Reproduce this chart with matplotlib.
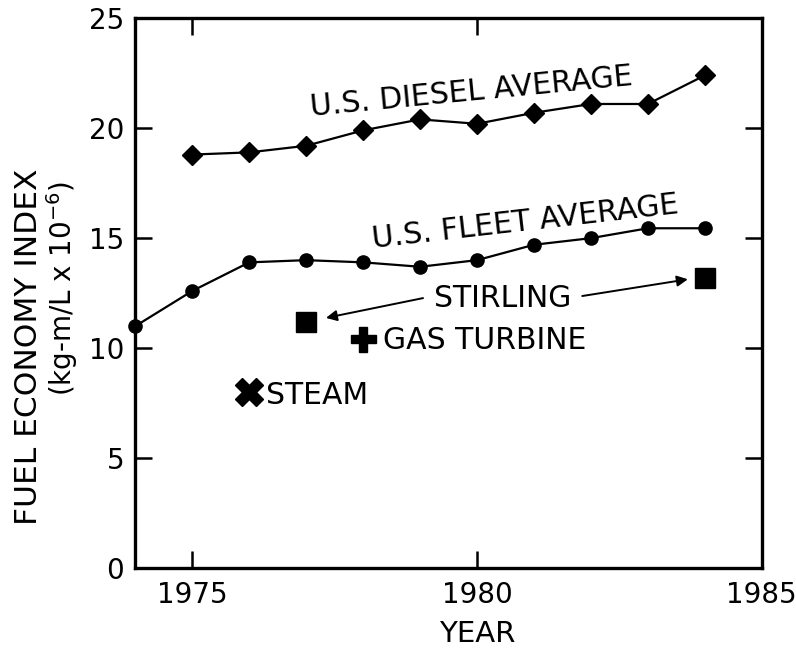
import matplotlib.pyplot as plt

plt.rcParams['font.family'] = ['DejaVu Sans']

diesel_years = [1975, 1976, 1977, 1978, 1979, 1980, 1981, 1982, 1983, 1984]
diesel_index = [18.8, 18.9, 19.2, 19.9, 20.4, 20.2, 20.7, 21.1, 21.1, 22.4]

fleet_years = [1974, 1975, 1976, 1977, 1978, 1979, 1980, 1981, 1982, 1983, 1984]
fleet_index = [11.0, 12.6, 13.9, 14.0, 13.9, 13.7, 14.0, 14.7, 15.0, 15.45, 15.45]

stirling_years = [1977, 1984]
stirling_index = [11.2, 13.2]
turbine_year, turbine_index = 1978, 10.4
steam_year, steam_index = 1976, 8.0


def main():
    fig = plt.figure(figsize=(7.96, 6.5), dpi=100)
    ax = fig.add_axes([0.170, 0.126, 0.787, 0.846])

    ax.plot(diesel_years, diesel_index, color='black', lw=1.6, marker='D', ms=10)
    ax.plot(fleet_years, fleet_index, color='black', lw=1.6, marker='o', ms=9.5, clip_on=False)
    ax.plot(stirling_years, stirling_index, ls='none', marker='s', ms=15, color='black')
    ax.plot(turbine_year, turbine_index, ls='none', marker='P', ms=18, color='black')
    ax.plot(steam_year, steam_index, ls='none', marker='X', ms=20, color='black')

    ax.set_xlim(1974, 1985)
    ax.set_ylim(0, 25)
    ax.set_xticks([1975, 1980, 1985])
    ax.set_yticks([0, 5, 10, 15, 20, 25])
    ax.tick_params(direction='in', length=12, width=1.8, labelsize=20,
                   top=True, right=True)
    ax.tick_params(axis='x', pad=9)
    ax.tick_params(axis='y', pad=8)
    for s in ax.spines.values():
        s.set_linewidth(2.4)

    ax.set_xlabel('YEAR', fontsize=21, labelpad=8, x=(1980 - 1974) / 11)
    fig.text(0.036, 0.466, 'FUEL ECONOMY INDEX', rotation=90, fontsize=22.5,
             ha='center', va='center')
    fig.text(0.078, 0.556, '(kg-m/L x 10$^{-6}$)', rotation=90, fontsize=20,
             ha='center', va='center')

    ax.text(1979.9, 21.65, 'U.S. DIESEL AVERAGE', fontsize=21.5, rotation=5.5,
            ha='center', va='center')
    ax.text(1980.85, 15.75, 'U.S. FLEET AVERAGE', fontsize=21.5, rotation=6.5,
            ha='center', va='center')

    ax.text(1980.45, 12.25, 'STIRLING', fontsize=21.5, ha='center', va='center')
    arrow = dict(arrowstyle='-|>', color='black', lw=1.4, mutation_scale=16)
    ax.annotate('', xy=(1977.3, 11.35), xytext=(1979.1, 12.3), arrowprops=arrow)
    ax.annotate('', xy=(1983.75, 13.15), xytext=(1981.8, 12.35), arrowprops=arrow)

    ax.text(1978.35, 10.35, 'GAS TURBINE', fontsize=21.5, ha='left', va='center')
    ax.text(1976.3, 7.85, 'STEAM', fontsize=21.5, ha='left', va='center')

    fig.savefig('out.png', dpi=100)


if __name__ == '__main__':
    main()
